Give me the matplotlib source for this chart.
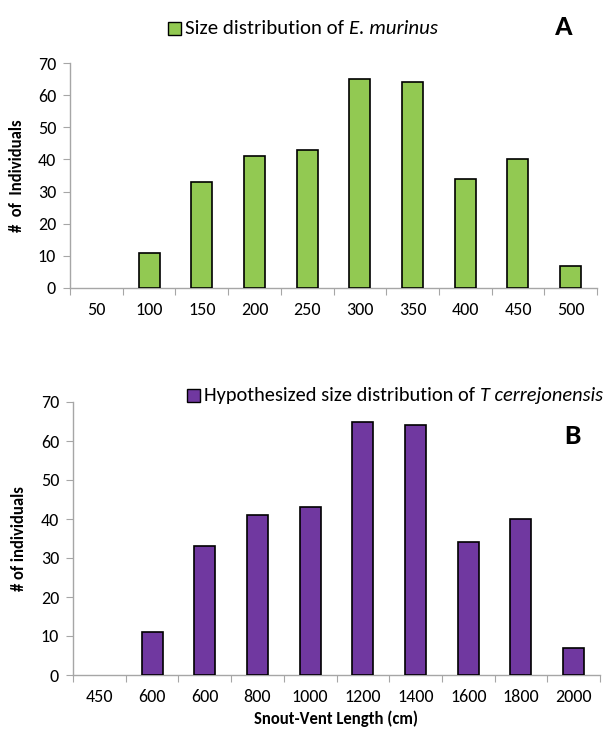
import matplotlib
matplotlib.use("Agg")
import matplotlib.pyplot as plt
from matplotlib.patches import Rectangle

plt.rcParams['font.family'] = ['Carlito', 'Lato', 'DejaVu Sans']

cats_a = ["50", "100", "150", "200", "250", "300", "350", "400", "450", "500"]
cats_b = ["450", "600", "600", "800", "1000", "1200", "1400", "1600", "1800", "2000"]
counts = [0, 11, 33, 41, 43, 65, 64, 34, 40, 7]
yticks = [0, 10, 20, 30, 40, 50, 60, 70]

green = "#92C952"
purple = "#7038A0"
gray = "#A6A6A6"

W, H = 611, 731
fig = plt.figure(figsize=(W / 100, H / 100), dpi=100)

def fr(l, t, r, b):
    return [l / W, 1 - b / H, (r - l) / W, (b - t) / H]

ax_a = fig.add_axes(fr(70, 63, 597, 288))
ax_b = fig.add_axes(fr(73, 402, 600, 675))

def style(ax, cats, vals, color):
    x = list(range(len(cats)))
    bars = ax.bar(x, vals, width=0.4, color=color, edgecolor="black", linewidth=1.2, zorder=3)
    for b, v in zip(bars, vals):
        if v == 0:
            b.set_linewidth(0)
    ax.set_xlim(-0.5, len(cats) - 0.5)
    ax.set_ylim(0, 70)
    ax.set_yticks(yticks)
    ax.set_yticklabels([str(v) for v in yticks], fontsize=13)
    ax.set_xticks([i - 0.5 for i in range(len(cats) + 1)])
    ax.set_xticklabels([])
    ax.set_xticks(x, minor=True)
    ax.set_xticklabels(cats, minor=True, fontsize=13)
    ax.tick_params(axis="x", which="minor", length=0, pad=10)
    ax.tick_params(axis="x", which="major", length=5, color=gray, direction="out")
    ax.tick_params(axis="y", length=5, color=gray, direction="out", pad=5)
    for s in ["top", "right"]:
        ax.spines[s].set_visible(False)
    for s in ["left", "bottom"]:
        ax.spines[s].set_color(gray)
        ax.spines[s].set_linewidth(1.0)

style(ax_a, cats_a, counts, green)
style(ax_b, cats_b, counts, purple)

ax_a.set_ylabel("#  of  Individuals", fontsize=12, fontweight="bold", labelpad=9)
ax_b.set_ylabel("# of individuals", fontsize=12, fontweight="bold", labelpad=10)
ax_b.set_xlabel("Snout-Vent Length (cm)", fontsize=12, fontweight="bold", labelpad=4)

renderer = fig.canvas.get_renderer()

def legend_entry(x_right, yc, color, plain, italic, fs):
    sq = 13
    t1 = fig.text(0, 1 - yc / H, plain, fontsize=fs, ha="left", va="center")
    t2 = fig.text(0, 1 - yc / H, italic, fontsize=fs, style="italic", ha="left", va="center")
    w1 = t1.get_window_extent(renderer).width
    w2 = t2.get_window_extent(renderer).width
    x_left = x_right - (sq + 4 + w1 + w2)
    fig.add_artist(Rectangle((x_left / W, (H - yc - sq / 2) / H), sq / W, sq / H,
                             facecolor=color, edgecolor="black", linewidth=1,
                             transform=fig.transFigure))
    tx = x_left + sq + 4
    t1.set_x(tx / W)
    t2.set_x((tx + w1) / W)

legend_entry(438, 28, green, "Size distribution of ", "E. murinus", 15)
legend_entry(603, 395, purple, "Hypothesized size distribution of ", "T cerrejonensis", 14.7)

fig.text(564 / W, 1 - 27 / H, "A", fontsize=21, fontweight="bold", ha="center", va="center")
fig.text(572 / W, 1 - 436 / H, "B", fontsize=21, fontweight="bold", ha="center", va="center")

fig.savefig("out.png", dpi=100)
